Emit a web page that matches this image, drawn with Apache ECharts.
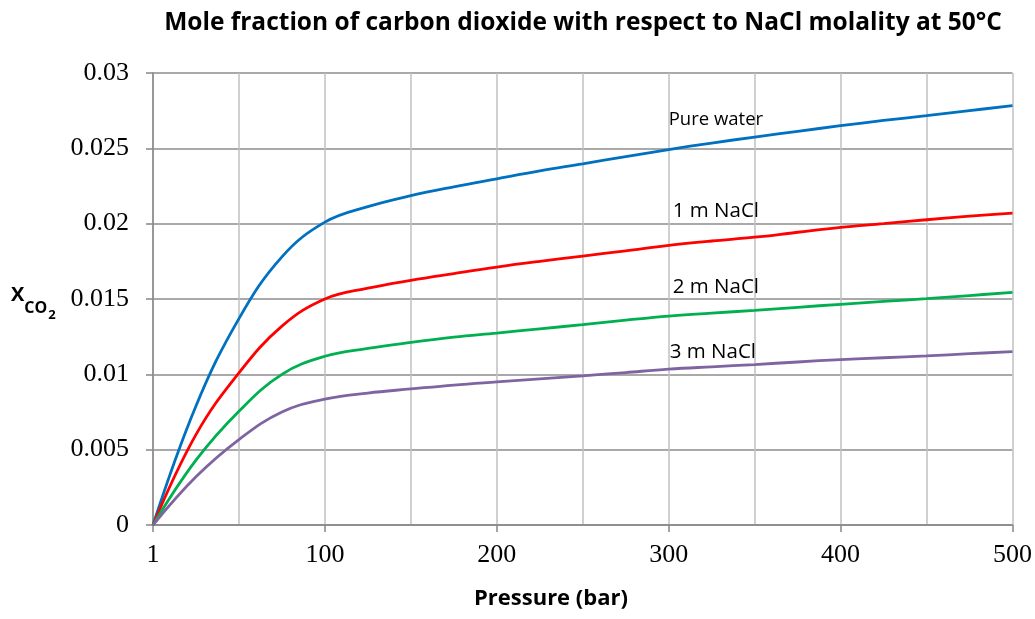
<!DOCTYPE html>
<html>
<head>
<meta charset="utf-8">
<title>CO2 mole fraction vs pressure</title>
<script src="https://cdn.jsdelivr.net/npm/echarts@6/dist/echarts.min.js"></script>
<style>
  html, body { margin: 0; padding: 0; background: #ffffff; }
  #chart { width: 1035px; height: 619px; }
</style>
</head>
<body>
<div id="chart"></div>
<script>
// Pressure points (bar) along the category axis, every 25 bar
var pressures = ['1', '25', '50', '75', '100', '125', '150', '175', '200', '225', '250',
                 '275', '300', '325', '350', '375', '400', '425', '450', '475', '500'];

// Mole fraction of CO2 at 50 °C for each brine
var pureWater = [0, 0.0079, 0.0137, 0.0178, 0.0201, 0.02113, 0.02186, 0.02245, 0.02298, 0.0235, 0.02397,
                 0.02445, 0.02492, 0.02535, 0.02575, 0.02613, 0.0265, 0.02685, 0.02717, 0.0275, 0.02784];
var nacl1m    = [0, 0.0060, 0.0101, 0.0132, 0.0150, 0.01572, 0.01624, 0.01669, 0.01712, 0.0175, 0.01785,
                 0.0182, 0.01856, 0.01885, 0.0191, 0.01943, 0.01975, 0.02, 0.02026, 0.0205, 0.0207];
var nacl2m    = [0, 0.0043, 0.00755, 0.0100, 0.0112, 0.01172, 0.01212, 0.01247, 0.01274, 0.01302, 0.0133,
                 0.0136, 0.01387, 0.01406, 0.01425, 0.01445, 0.01465, 0.01484, 0.01502, 0.01523, 0.01544];
var nacl3m    = [0, 0.0032, 0.00567, 0.0075, 0.00836, 0.00876, 0.00903, 0.00929, 0.0095, 0.0097, 0.0099,
                 0.01012, 0.01034, 0.0105, 0.01065, 0.01082, 0.01098, 0.0111, 0.01122, 0.01137, 0.01151];

var seriesNames = ['Pure water', '1 m NaCl', '2 m NaCl', '3 m NaCl'];
var yTicks = [0, 0.005, 0.01, 0.015, 0.02, 0.025, 0.03];

var chart = echarts.init(document.getElementById('chart'), null, { renderer: 'canvas' });

var sansFont = '"Open Sans", "Noto Sans", sans-serif';
var serifFont = '"Liberation Serif", "DejaVu Serif", serif';

// In-plot curve captions, anchored at the 300 bar column
function caption(text, yAnchor, size, dx) {
  return {
    symbol: 'circle',
    symbolSize: 0,
    data: [{ coord: ['300', yAnchor] }],
    label: {
      show: true,
      position: 'right',
      distance: 0,
      offset: [dx, 0],
      formatter: text,
      color: '#000000',
      fontFamily: sansFont,
      fontSize: size
    },
    silent: true
  };
}

function curve(name, data, color, note) {
  return {
    name: name,
    type: 'line',
    data: data,
    smooth: 0.4,
    showSymbol: false,
    symbol: 'none',
    lineStyle: { color: color, width: 2.8 },
    itemStyle: { color: color },
    markPoint: note,
    animation: false,
    z: 3
  };
}

var option = {
  backgroundColor: '#ffffff',
  animation: false,
  title: {
    text: 'Mole fraction of carbon dioxide with respect to NaCl molality at 50°C',
    left: 578,
    top: 6,
    textAlign: 'center',
    textStyle: {
      fontFamily: sansFont,
      fontWeight: 'bold',
      fontSize: 24.5,
      color: '#000000'
    }
  },
  grid: {
    left: 153,
    right: 22,
    top: 73,
    bottom: 94,
    containLabel: false
  },
  xAxis: {
    type: 'category',
    data: pressures,
    boundaryGap: false,
    axisLine: { show: true, lineStyle: { color: '#868686', width: 1.5 } },
    axisTick: { show: true, interval: 3, length: 7, lineStyle: { color: '#868686', width: 1.5 } },
    axisLabel: {
      interval: 3,
      margin: 17,
      color: '#000000',
      fontFamily: serifFont,
      fontSize: 26
    },
    splitLine: { show: true, interval: 1, lineStyle: { color: '#c0c0c0', width: 1.5 } }
  },
  yAxis: {
    type: 'value',
    min: yTicks[0],
    max: yTicks[yTicks.length - 1],
    interval: 0.005,
    axisLine: { show: true, lineStyle: { color: '#868686', width: 1.5 } },
    axisTick: { show: true, length: 7, lineStyle: { color: '#868686', width: 1.5 } },
    axisLabel: {
      margin: 24,
      color: '#000000',
      fontFamily: serifFont,
      fontSize: 26,
      formatter: function (v) { return String(parseFloat(v.toFixed(4))); }
    },
    splitLine: { show: true, lineStyle: { color: '#8c8c8c', width: 1.5 } }
  },
  graphic: [
    {
      type: 'text',
      left: 474,
      top: 588,
      style: {
        text: 'Pressure (bar)',
        fill: '#000000',
        font: 'bold 22px ' + sansFont
      }
    },
    {
      type: 'text',
      left: 11,
      top: 285,
      style: {
        text: '{x|X}{co|CO}{two|2}',
        rich: {
          x: { fontFamily: sansFont, fontWeight: 'bold', fontSize: 20, fill: '#000000', verticalAlign: 'top' },
          co: { fontFamily: sansFont, fontWeight: 'bold', fontSize: 16, fill: '#000000', padding: [15, 0, 0, 0], verticalAlign: 'top' },
          two: { fontFamily: sansFont, fontWeight: 'bold', fontSize: 13, fill: '#000000', padding: [24, 0, 0, 1], verticalAlign: 'top' }
        }
      }
    }
  ],
  series: [
    curve(seriesNames[0], pureWater, '#0070C0', caption(seriesNames[0], 0.0269, 18.5, 0)),
    curve(seriesNames[1], nacl1m, '#FF0000', caption(seriesNames[1], 0.02083, 20.5, 4)),
    curve(seriesNames[2], nacl2m, '#00B050', caption(seriesNames[2], 0.01579, 20.5, 4)),
    curve(seriesNames[3], nacl3m, '#8064A2', caption(seriesNames[3], 0.01148, 20.5, 1))
  ]
};

chart.setOption(option);
</script>
</body>
</html>
